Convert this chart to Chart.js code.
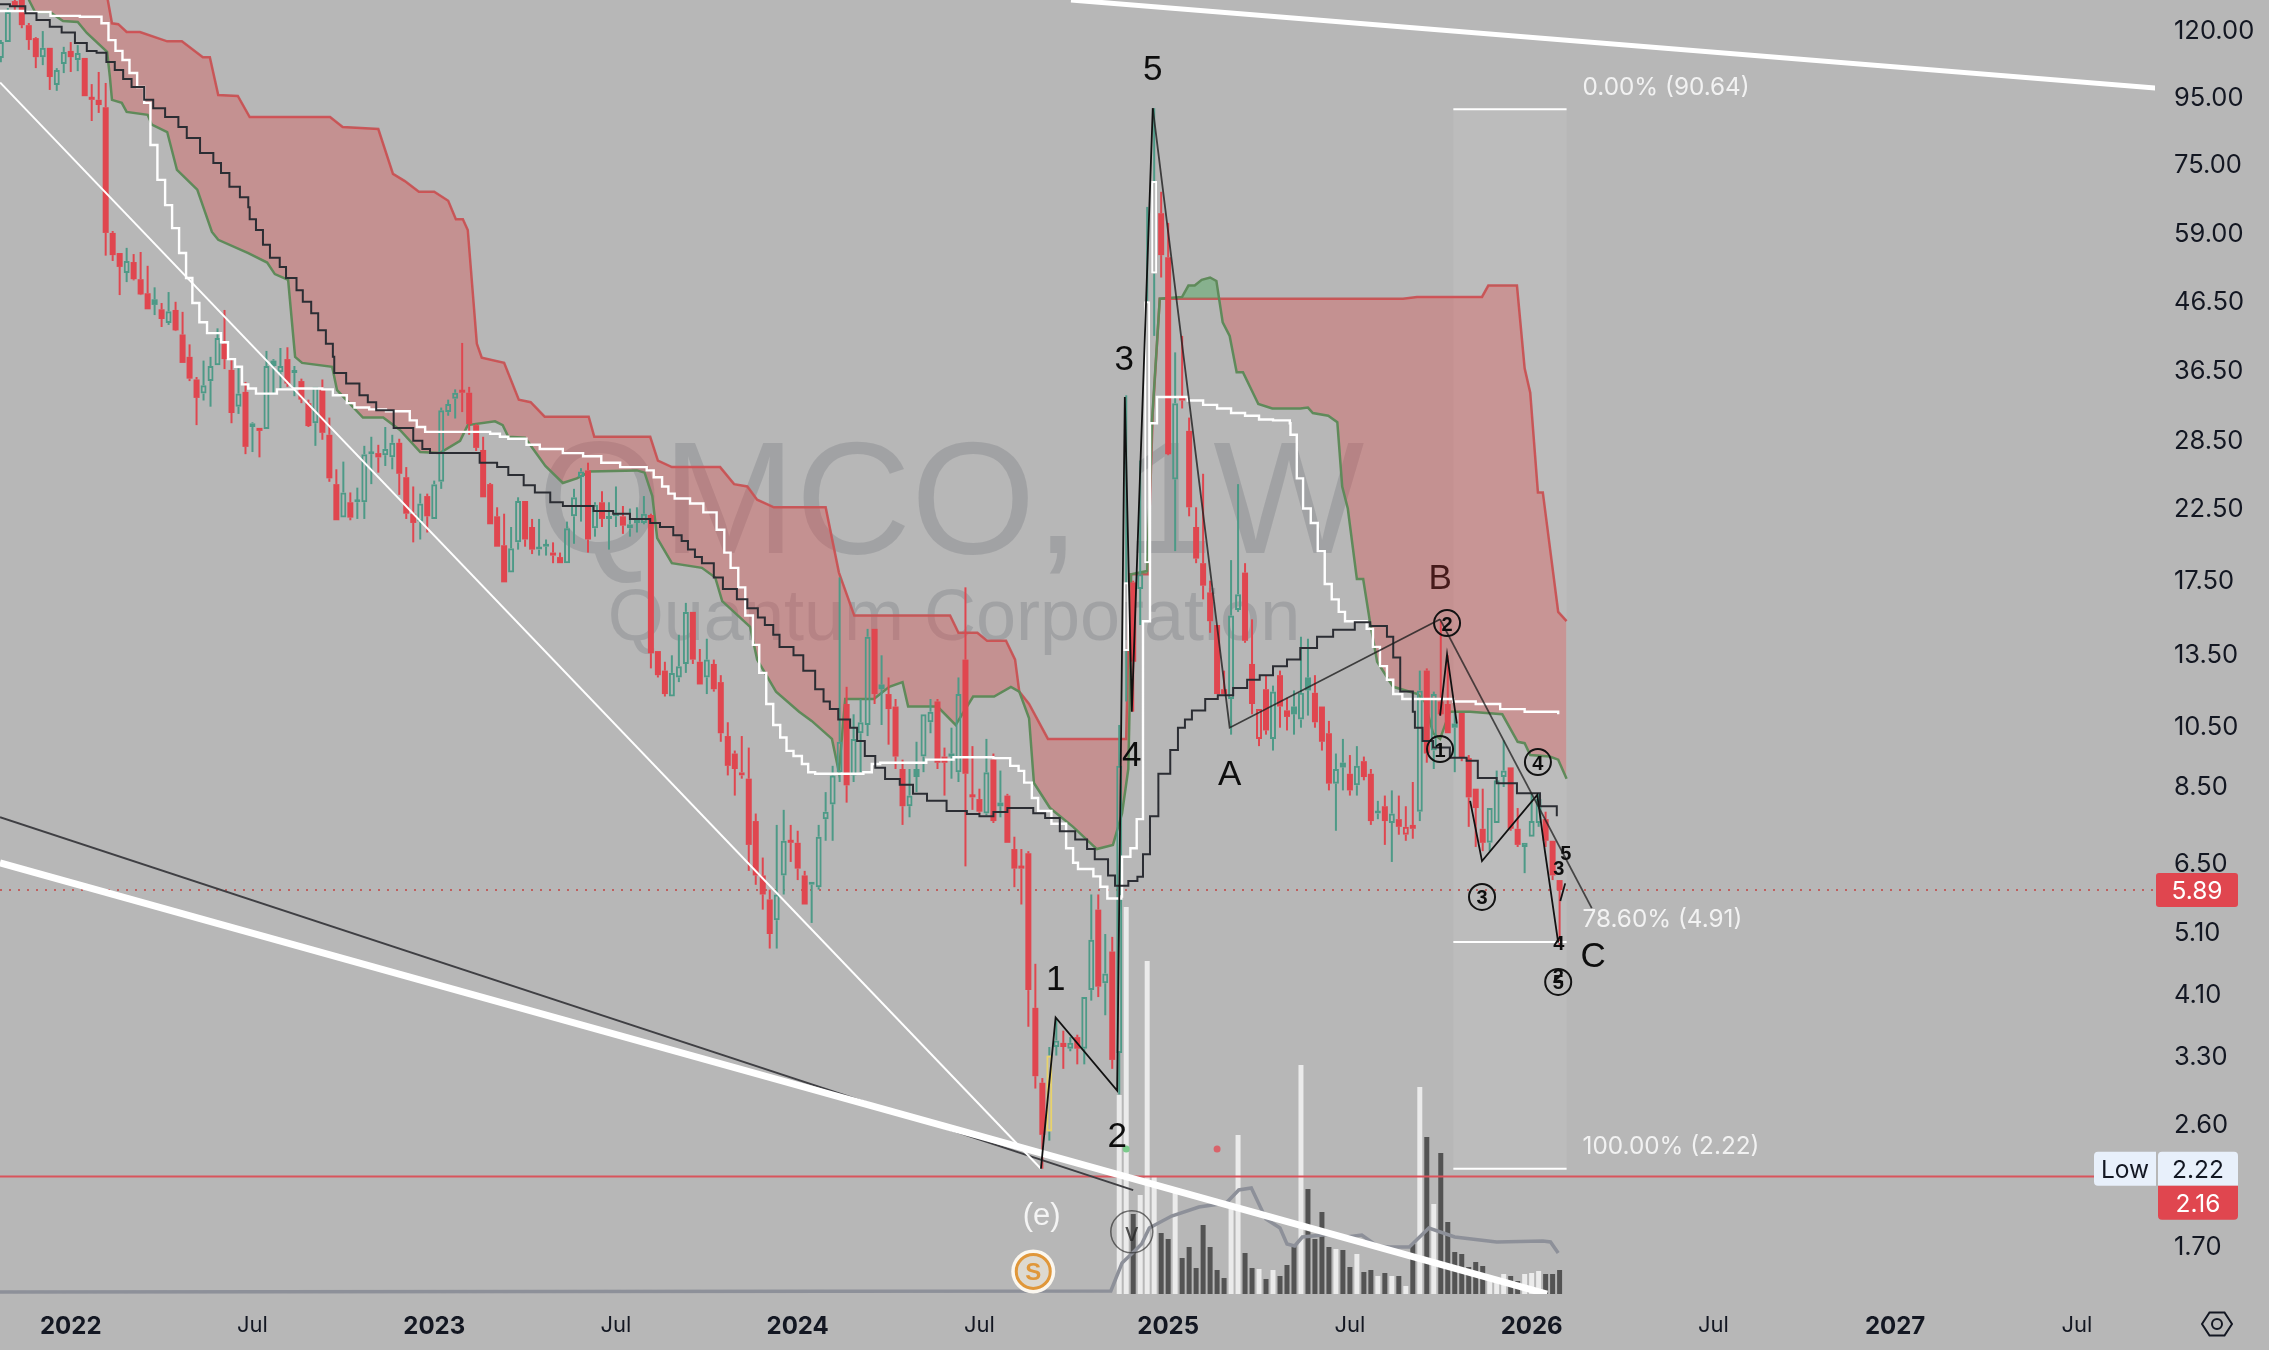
<!DOCTYPE html>
<html><head><meta charset="utf-8">
<style>html,body{margin:0;padding:0;background:#b7b7b7}canvas{display:block}</style>
<script src="https://cdn.jsdelivr.net/npm/chart.js@4/dist/chart.umd.js"></script>
</head><body><canvas id="c" width="2269" height="1350"></canvas>
<script>
const opens=[108.5,114.7,132.4,132.9,121.7,116.3,108.8,112.4,98.7,106.2,
111.2,107.7,108.5,94.5,93.7,91.3,58.8,54.8,51.1,53.1,
50,47.6,46.6,45,42.9,44.9,41.2,38.1,35.2,33.5,
35,37,39.9,36.4,32,33.7,29.8,29.7,29.6,37.6,
36.1,37.8,36,35,32.4,30.2,33.9,29,24.4,21.7,
22.9,22.9,22.9,27.1,27.2,27,26.8,28.2,25,22,
21.4,23.4,21.6,24.6,31.4,32.9,33.8,33.6,30,27.5,
24.4,21.8,19.7,17.9,19.9,23,21,19.4,19.6,19.2,
18.9,18.5,21.8,25,25.6,20.9,22.9,21.6,21.8,21.8,
20.9,21.3,21.3,21.9,13.6,12.7,11.6,12.4,13,15.6,
13.1,12.4,13,12.2,10.1,9.5,8.8,8.7,7.5,6.2,
5.7,5.3,6.2,7,6.95,6.2,6,5.95,7.55,7.95,
8.9,11.3,8.8,10.2,10.5,14.7,12.1,11.7,11.2,9,
7.9,9,9.4,10.6,11.4,9.4,9.5,8.9,13.2,8.2,
8.1,7.7,9.3,8,8.2,6.8,6.4,6.7,3.9,3,
2.53,3.4,3.45,3.38,3.52,3.38,4.15,5.5,4.25,4.75,
3.33,13.6,17.3,16.9,18.5,51,63,54,24.8,33.1,
29.4,21,18.5,16.7,14.9,11.9,11.5,15.7,17.9,13,
10,11.9,10,12.5,11.05,11.2,10.7,12.4,11.75,11.2,
10.2,8.55,9.2,8.85,8.5,9.25,8.85,7.7,7.9,7.45,
7.55,7.15,7.4,7.75,12.7,9.6,11.4,11.3,10.55,10.95,
9.35,8.4,7.3,6.95,7.45,8.75,9.05,7.3,6.85,7.1,
7.45,7.55,7,6.1];
const closes=[114.7,127.4,130,121.7,115.5,108.8,112.4,101.5,104,110.8,
108.8,110.4,94.9,93.7,92,58.8,54.4,52.2,53.3,50,
47.4,45,45.7,43.5,44.7,41.8,37.3,35.3,33,34.5,
36.9,40.7,37.8,31.3,33.5,27.8,30.2,29.4,36.9,36.9,
36.9,34.7,36.2,32.8,29.9,34.3,29.2,24.9,21.5,23.7,
21.7,23,27.1,27.2,26.8,27.6,28.2,25.3,22,21.3,
22.8,21.8,24.4,31.6,32.3,33.6,33.6,30.1,27.7,23.3,
21.2,19.6,17.3,19.5,23,20.1,19.4,19.5,19.7,19,
18.5,20.9,23.3,25.5,20.1,22.7,21.6,21.8,21.9,21.1,
21.2,21.4,22,13.5,12.5,11.7,12.6,12.9,15.6,13.2,
12.1,13.2,11.9,10.2,9.1,9,8.9,6.9,6.2,5.8,
5.05,5.8,7,6.95,6.35,5.6,6.05,7.1,7.75,8.8,
9.9,8.5,10,10.6,14.3,11.7,11.9,11.1,9.4,7.9,
8.2,8.75,10.9,11,9.2,9.2,9.4,11.7,8.85,8.15,
7.75,8.9,7.5,7.9,6.95,6.35,6.35,4.15,3.07,2.5,
3.3,3.48,3.4,3.45,3.38,4.05,4.95,4.2,4.4,3.25,
9.1,17.3,13.1,17.8,46.3,70.5,54.4,27.1,32.4,32.7,
22.5,18.8,17.1,15.1,11.7,11.7,15.4,16.6,14.1,11.3,
11.1,10.3,11.8,11.2,10.8,10.9,11.75,11.85,10.6,9.9,
8.55,9,9.05,8.35,9.1,8.75,7.5,7.75,7.5,7.7,
7.35,7.35,7.3,11.85,9.5,11.7,10.9,10.2,10.4,9.35,
8.15,7.85,6.95,7.85,8.65,8.95,7.3,6.9,6.95,7.5,
8.1,7,6.2,5.89];
const highs=[115.5,129.2,132.9,133,122.6,116.7,119.2,112.4,104.7,112.8,
114.7,113.5,108.5,99,103.3,99.4,59.2,54.8,55.8,54.6,
55,52.4,48.6,46,47.8,46.2,44.6,39.8,35.5,37.6,
38.1,42.1,44.9,37.9,36.6,34.9,30.3,29.7,38.9,37.8,
39.3,39.4,36.9,35.3,32.8,34.3,35.2,30.8,25.7,26.4,
23.7,24.1,27.9,28.8,28,29.8,29,28.6,25.9,24.2,
23.6,23.6,24.7,31.9,32.8,34,40,34.3,30.1,28.8,
24.5,22.5,22,21,23.3,23,21.6,21.6,20.1,19.9,
19.2,21.4,24,25.8,26.3,22.9,23.8,22.9,24.2,22.6,
22.4,22.5,23.4,22,13.6,13.1,13.4,14.4,16.1,15.6,
13.7,14.2,13.2,12.5,10.6,9.6,10.1,9.7,7.7,6.6,
5.9,7.4,7.8,7.4,7.25,6.3,6.05,7.4,8.3,9.1,
17.6,12,10.9,11.5,14.7,14.7,13.4,12.4,11.5,9.3,
9,9.9,10.9,11.5,11.5,9.7,10.4,12.4,17,9.75,
8.4,10,9.5,8.95,8.25,7.1,6.8,6.75,4.55,3.05,
3.4,3.75,3.6,3.52,3.55,4.05,5.8,5.8,5.05,5,
10.5,33.3,17.4,26.5,64.4,91,67.9,60.9,38.7,41,
30.8,22.5,25.3,17.4,14.9,12.7,18.7,24.4,18.5,15.2,
11.1,12.5,12.05,12.7,11.55,11.85,14.3,14.2,12.5,11.2,
10.65,9.5,10,9.45,9.75,9.4,9,8.05,8.2,8.35,
8.2,7.9,8.6,12.7,12.8,11.8,15.1,13.4,11,10.95,
9.45,8.4,8.4,7.85,8.95,9.95,9.05,7.85,6.95,8.25,
8.25,7.75,7,6.1];
const lows=[106.9,114.7,128.3,120.4,111.6,104.7,105.8,97,96.7,102.9,
103.3,103.6,94.9,87,89.5,54.3,53.3,47.3,49.5,49.8,
47.3,45,44.1,42.3,42.6,41.7,37.3,35,30,32.7,
32,37,36.5,30.2,31.2,27.1,27.3,26.8,29.6,33.5,
34.1,34.3,33.2,32.4,29.8,27.9,28.5,24.6,21.5,21.7,
21.5,21.6,21.6,24.4,25.4,26,25.7,23.5,21.6,19.9,
20.1,20.6,21.6,24,31,30.7,31.4,29,27.4,23.3,
21.2,19.6,17.3,17.9,19.4,19.6,19.1,19,19,18.5,
18.5,18.5,19.8,21.4,19.2,20.3,21,19.4,21,20.5,
20.3,20.6,21.2,12.8,12.4,11.6,11.6,12.2,12.6,13,
12.1,11.7,11.8,9.9,8.8,8.2,8.7,6.3,6,5.5,
4.8,4.8,5.8,6.5,6.1,5.6,5.25,5.9,7,7,
8.6,8,8.6,8.9,10.1,11.3,10.5,9.8,9,7.4,
7.6,8.3,8.9,10.2,9,8.2,8.7,8.6,6.4,7.8,
7.7,7.65,7.45,7.6,6.95,5.95,5.6,3.65,2.94,2.22,
2.45,3.3,3.15,3.35,3.2,3.2,4,4.05,3.8,3.15,
2.88,11.4,11,14.9,18.5,41,50.3,27,19.3,31.8,
21.8,18.5,16.3,14.5,11.7,11.7,10.15,15.6,14,10.9,
9.75,10.15,9.6,10.4,10.3,10.15,10.4,10.85,10.4,9.6,
8.35,7.25,8.35,8.2,8.2,8.65,7.4,7.55,6.9,6.5,
7.15,7,7.05,7.5,9.2,9,10.85,10.2,8.9,9.25,
7.35,6.85,6.75,6.75,7.45,8.45,7.25,6.85,6.25,7.1,
7.35,6.85,6.1,4.85];
const filledGreen=[22,39,126,131,136,143,185,187,192,208];
const hollowRed=[106,180,201];
const yellowOutline=[150];
const whiteOutline=[161,164,165];

const volumeStart=160;
const volumes=[9.95,19.35,4,4.95,16.65,5.85,3.05,2.75,5.15,1.8,
2.35,1.3,3.45,2.35,1.2,.8,4.25,7.95,2.05,1.3,
1.25,.75,1.2,.9,1.45,2.4,11.45,5.25,2.75,4.1,
2.35,2.25,2.2,1.35,2,1.1,1.2,.9,1.05,.9,
.9,.4,2.5,10.35,7.85,4.5,7.05,3.6,2.1,2,
1.35,1.6,1.4,.65,.65,1,.9,.65,1,1.05,
1.15,1,1,1.2];
const volMaIdx=[-1,158.8,160.4,161.9,163.2,164.3,167.5,171.4,175.3,177.1,178.9,181,183,184,185.1,186.2,190.6,192.5,194.7,196.9,198.7,201.5,204.3,208,214,220.6,221.7,222.8];
const volMaVals=[.1,.15,1.55,2.05,2.5,3.3,3.9,4.35,4.55,5.2,5.3,3.75,3.3,2.5,2.4,2.85,3,2.85,2.95,2.4,2.35,2.35,3.3,2.85,2.6,2.65,2.6,2.05];

const spanBIdx=[4,14.2,15.3,15.9,16.8,18,19.9,23.8,25.9,28.9,29.9,31.1,33.9,35.6,47.1,48.9,54,56.1,57.8,59.8,62,64,65.1,66.1,66.8,68.1,68.8,72,74.1,75.8,77.8,84.1,84.9,92.9,94,96,102.9,104.9,106.8,108.2,110.6,118,119.9,122.1,135.8,137,139.7,141.1,143.8,145.1,145.7,147.1,149.8,161,161.5,164,164.1,164.8,165.8,200.6,202.6,211.9,212.8,216.9,218,218.8,219.9,220.6,222.8,224];
const spanBVals=[170,158,132.9,122.5,122.1,118.8,118.8,115,115,108.8,108.8,95.3,95,88.2,88.2,85.2,84.6,72.3,70.5,67.9,67.9,65.8,61.7,61.7,59.4,39.9,38,37.3,32.8,32.5,30.9,30.9,28.8,28.8,26.5,25.9,25.9,24.4,24.2,23.1,22.5,22.5,17.9,15.4,15.4,14.5,14.5,14.1,14.1,13.2,11.8,11.3,10,10,17.8,17.8,18.4,31.3,46.7,46.7,47,47,48.9,48.9,36.6,33.6,23.7,23.7,15.6,15.1];
const spanAIdx=[4,4.9,7,8.9,11,12.3,15.2,15.6,15.9,17.3,18,21,21.6,23.8,25.2,28.1,30.2,31.1,35.4,38.1,39.2,41.1,42.1,43.1,47.4,48.1,51.8,54.7,57.1,60,62.8,65.7,66.8,70.7,71.8,72.6,75,77.9,80.4,82.4,84.3,91,92.1,93.2,93.9,96,100.3,102.2,103.2,107.2,108.2,110.9,114.2,116,118.9,119.9,120.8,124.9,127.1,129,129.8,134,136.6,139.1,142.1,144.5,145.7,147.1,147.8,150.1,153.4,156.8,159.1,160.4,161.3,161.5,161.7,164,164.7,165.8,169,169.9,170.8,171.8,173,173.9,174.8,175.8,176.8,177.7,179.9,181.9,185.9,187,187.7,189.9,191.2,191.9,192.7,194,194.9,195.9,196.9,199.2,202.7,203.7,204.9,205.9,207.3,208.3,210.2,214.8,217,218,218.8,221.6,222.8,224];
const spanAVals=[133,127.4,127.4,123.5,123.1,118.4,110.8,101.5,93.7,92.7,89.8,88.9,85.9,83.7,73.3,68.4,59,57.4,54.8,53,50.9,49.9,38.1,37.3,36.8,33.9,30.8,30.8,29.5,27.3,27.2,28.4,30,30.4,30,28.8,28.7,26,24.5,24.9,25.5,25.6,25.4,23.4,20.2,18.5,18.2,17.6,16.2,14.8,13.2,11.8,11,10.65,10,8.9,11.5,11.5,12,12.2,11.2,11.2,10.5,11.6,11.6,12,11.8,10.75,8.57,7.85,7.35,6.8,6.9,7.7,9,11.4,17.8,18,30.5,46.7,47,48.9,48.9,49.9,50.3,49.7,43,41,36.1,36.1,32.3,31.8,31.8,31.9,31.3,31,30.3,24.2,22.4,17.5,17.5,15,13.1,12,11.7,11.4,10.2,10,11,11,11,10.9,9.9,9.85,9.45,9.4,9.3,8.7];

const kijunIdx=[-1,3.5,7.1,11.3,14.4,15.4,16.4,17.4,18.4,19.5,20.5,21.4,22.4,23.5,24.5,25.5,26.5,27.4,28.4,29.5,31.5,32.5,33.5,34.5,35.4,36.5,39.5,42,46,47.5,49.5,50.6,52.7,55.1,58.5,59.5,60.7,64.5,70,71.4,72.6,75.2,77.1,80.4,83.3,85.9,88.6,92.4,93.4,94.6,95.5,96.4,98.6,100.5,102.4,103.5,104.4,105.5,106.5,107.6,108.5,109.5,110.5,111.5,112.4,113.4,114.6,115.5,116.5,123.4,124.6,125.8,132.4,136.3,142,144.4,145.6,146.4,147.5,148.4,150.3,152.4,153.4,154.1,156.3,157.3,158.3,160.3,160.4,161.6,162.5,163.4,164.4,165.4,169.8,172,174,176,178,180,182,184.4,184.5,185.4,186.3,187.4,188.4,189.4,190.4,191.4,192.3,195.4,196.3,197.3,198.3,199.2,200.5,207.8,211,214.5,218,222.8];
const kijunVals=[127.9,127.4,125.7,125.3,122.5,115.5,111.2,107.7,102.9,98,92.7,80,70.8,64.8,59.8,54.8,50.2,46,43,41.4,40.1,37.8,36.8,34.6,34.1,33.5,34,34.1,34,33.3,32.4,31.9,31.7,31.5,30.5,29.8,29.3,29.3,29.1,28.8,28.6,28,27.6,27.2,26.9,26.3,25.9,25.6,25,24.2,23.6,23.2,22.8,22.1,20.8,19.2,18.2,17,15.4,13.9,12.6,11.3,10.5,10.05,9.59,9.42,9.16,8.9,8.85,8.9,9.16,9.2,9.3,9.38,9.35,9.1,8.94,8.58,8.13,7.77,7.43,6.82,6.48,6.34,6.18,5.96,5.72,5.76,6.62,6.82,7.55,15.1,30.2,33.1,32.7,32.2,31.8,31.3,31,30.6,30.5,30.2,29,24.9,22.4,21.3,19.3,17.2,16.3,15.6,15.1,14.7,13.8,12.9,12.3,11.7,11.5,11.4,11.3,11.1,11,10.9];

const baseIdx=[-1,1.3,3.5,5.1,7,8.7,10.6,12.3,13.7,15.1,16.3,17.5,18.7,20.5,21.8,23.5,25.4,26.6,28.5,30.4,31.5,32.7,34.2,35.4,35.6,36.5,37.5,38.5,39.9,40.8,42.3,43.2,44.4,45.4,46.5,47.5,47.7,49.4,51.3,52.5,53.7,56.2,59,60.3,61.4,68.5,71,72.6,74.8,76.4,78.6,80.4,84.8,87.6,90,92.9,94.3,96.2,97.4,98.3,99.3,100.3,102,103.3,105.3,106.8,108.3,109.3,110.5,111.4,113.4,114.8,116.5,117.7,118.6,119.8,121.5,122.5,123.6,125.1,126.5,128.6,130.5,132.5,135.3,138.2,140,142,144,146.3,147.7,149.4,151.5,153.7,155.4,156.5,158.4,159.4,161.3,162.6,163.4,164.4,165.6,167.3,168.4,169.4,170.4,172.3,174.1,176.3,178.3,180.1,182,184,185.9,188.3,190.6,193.7,195.9,198.3,199.2,200.2,202,202.3,203.4,204.9,207.3,209.7,211.3,214,216.9,220.2,222.6];
const baseVals=[130.9,130,126.9,123.9,121,118.6,114.3,111.2,110.5,107,104,100.8,98,93.7,91,88.2,85.2,82,77.8,75.1,72.5,69.1,66.6,64.3,61.7,59.4,56.4,53.9,52.2,50.2,48.1,46.2,44.4,41.8,39.9,38.1,36,34.7,33.3,32.5,31.6,29.7,28.4,27.6,27.2,26.3,25.9,25.2,24.3,23.7,22.9,22.6,22.2,22,21.6,21.3,21,20.4,20,19.4,18.9,18.5,17.6,16.9,16.3,15.8,15.3,14.9,14.4,13.8,13.4,12.7,11.9,11.4,11.1,10.7,10.4,9.93,9.42,9.04,8.69,8.52,8.25,8.05,7.77,7.69,7.63,7.74,7.85,7.85,7.71,7.58,7.24,7.03,6.8,6.56,6.2,5.98,6.08,6.17,6.68,7.63,8.85,9.62,10.4,10.7,11.05,11.5,11.65,11.95,12.3,12.5,12.9,13.2,13.75,14.3,14.65,15.05,14.85,14.3,13.3,11.8,11,10.4,9.93,9.7,9.36,9.26,8.72,8.56,8.27,7.9,7.63];

const waveIdx=[148.8,150.9,159.7,160.8,161.8,164.8];
const waveVals=[2.22,3.77,2.92,33.1,11,91];
const correctionIdx=[164.8,175.8,205.9];
const correctionVals=[91,10.4,15.2];
const waveBIdx=[205.9,227.6];
const waveBVals=[15.2,5.53];
const subOneIdx=[205.9,206.9,208.3];
const subOneVals=[10.85,13.45,10.55];
const subTwoIdx=[210.2,211.9,219.8,220.9,222.8];
const subTwoVals=[8.05,6.52,8.22,6.75,4.9];
const subThreeIdx=[223.1,223.8];
const subThreeVals=[5.67,6.03];

const topTrendIdx=[153.1,308.3];
const topTrendVals=[132.9,97.6];
const bottomTrendIdx=[-0.12,221.2];
const bottomTrendVals=[6.48,1.432];
const thinTrendIdx=[-0.12,148.8];
const thinTrendVals=[99.6,2.22];
const darkTrendIdx=[-0.12,162];
const darkTrendVals=[7.6,2.06];

const fibStart=207.8, fibEnd=224;
const fibLevels=[90.64,4.91,2.22];
const fibLabels=['0.00% (90.64)','78.60% (4.91)','100.00% (2.22)'];
const lastPrice=5.89, periodLow=2.16, lowLabel=2.22;
const dotIdx=[161,174], dotVals=[2.38,2.38], dotColors=['#7ccb8c','#d9636a'];

const yTicks=[120,95,75,59,46.5,36.5,28.5,22.5,17.5,13.5,10.5,8.5,6.5,5.1,4.1,3.3,2.6,1.7];
const xTickIdx=[10,36,62,88,114,140,167,193,219,245,271,297];
const xTickLabels=['2022','Jul','2023','Jul','2024','Jul','2025','Jul','2026','Jul','2027','Jul'];

const waveLabels=[['5',164.8,104.7],['3',160.7,37.9],['4',161.8,9.46],['1',150.9,4.32],['2',159.7,2.5],['A',175.8,8.85],['C',227.8,4.69]];
const smallLabels=[['5',223.9,6.72],['3',222.9,6.38],['4',222.9,4.9],['2',222.8,4.37]];
const circled=[['1',205.9,9.65],['2',206.9,15],['3',211.9,5.75],['4',219.9,9.22],['5',222.8,4.27]];

const XMIN=-0.12,XMAX=308.18,YMIN=1.432,YMAX=132.9,VOLMAX=64.7;
const BG='#b7b7b7',GREEN='#4d9a87',RED='#e0464f',TXT='#131722';
const FONT='Inter, "Liberation Sans", sans-serif', LAB='"Liberation Sans", Arial, sans-serif';

const xy=(xs,ys)=>xs.map((x,i)=>({x,y:ys[i]}));
const isBull=i=>closes[i]>opens[i];
const candleColor=i=>{
  if(yellowOutline.includes(i))return '#e9d36a';
  if(whiteOutline.includes(i))return '#ffffff';
  if(filledGreen.includes(i))return GREEN;
  if(hollowRed.includes(i))return RED;
  return isBull(i)?GREEN:RED;
};
const wickColor=i=>{
  if(filledGreen.includes(i))return GREEN;
  if(hollowRed.includes(i))return RED;
  return isBull(i)?GREEN:RED;
};
const idx=opens.map((_,i)=>i);
const lineDs=(xs,ys,color,width,order,extra)=>Object.assign({type:'line',data:xy(xs,ys),borderColor:color,borderWidth:width,pointRadius:0,tension:0,fill:false,order,xAxisID:'x',yAxisID:'y',borderCapStyle:'butt'},extra||{});

const datasets=[
  lineDs(spanBIdx,spanBVals,'#c9575c',2.5,95),
  lineDs(spanAIdx,spanAVals,'#5f8a5a',2.5,94,{fill:{target:0,above:'rgba(70,170,85,0.42)',below:'rgba(224,70,70,0.33)'}}),
  {type:'bar',data:volumes.map((v,i)=>({x:volumeStart+i,y:v})),yAxisID:'vol',xAxisID:'x',barThickness:5,grouped:false,order:80,inflateAmount:0,
   backgroundColor:volumes.map((v,i)=>isBull(volumeStart+i)?'rgba(255,255,255,0.72)':'rgba(50,50,50,0.75)')},
  lineDs(volMaIdx,volMaVals,'#8d9099',3.5,79,{yAxisID:'vol'}),
  lineDs([XMIN,XMAX],[periodLow,periodLow],'#d9545c',2,70),
  lineDs([XMIN,XMAX],[lastPrice,lastPrice],'#c0605f',2,71,{borderDash:[2,7]}),
  {type:'bar',data:idx.map(i=>({x:i,y:[Math.max(opens[i],closes[i]),highs[i]]})),barThickness:2,grouped:false,order:52,inflateAmount:0,backgroundColor:idx.map(wickColor)},
  {type:'bar',data:idx.map(i=>({x:i,y:[lows[i],Math.min(opens[i],closes[i])]})),barThickness:2,grouped:false,order:52,inflateAmount:0,backgroundColor:idx.map(wickColor)},
  {type:'bar',data:idx.map(i=>({x:i,y:[opens[i],closes[i]]})),barThickness:6,grouped:false,order:50,inflateAmount:0,minBarLength:3,borderSkipped:false,
   backgroundColor:idx.map(i=>(isBull(i)?BG+'00':(filledGreen.includes(i)?GREEN:RED))),
   borderColor:idx.map(candleColor),borderWidth:idx.map(i=>isBull(i)?2:0)},
  lineDs(baseIdx,baseVals,'#2b2d33',2,39,{stepped:true}),
  lineDs(kijunIdx,kijunVals,'#ffffff',2.4,40,{stepped:true}),
  lineDs(thinTrendIdx,thinTrendVals,'#ffffff',2,30),
  lineDs(darkTrendIdx,darkTrendVals,'#3f3f43',2,31),
  lineDs(bottomTrendIdx,bottomTrendVals,'#ffffff',7,29),
  lineDs(topTrendIdx,topTrendVals,'#ffffff',5,29),
  lineDs([fibStart,fibEnd],[fibLevels[0],fibLevels[0]],'#ffffff',2,28),
  lineDs([fibStart,fibEnd],[fibLevels[1],fibLevels[1]],'#ffffff',2,28),
  lineDs([fibStart,fibEnd],[fibLevels[2],fibLevels[2]],'#ffffff',2,28),
  lineDs(waveIdx,waveVals,'#111111',1.8,20),
  lineDs(correctionIdx,correctionVals,'rgba(30,30,30,0.8)',1.8,20),
  lineDs(waveBIdx,waveBVals,'rgba(30,30,30,0.75)',1.8,20),
  lineDs(subOneIdx,subOneVals,'#111111',1.8,20),
  lineDs(subTwoIdx,subTwoVals,'#111111',1.8,20),
  lineDs(subThreeIdx,subThreeVals,'#111111',1.8,20),
  {type:'scatter',data:xy(dotIdx,dotVals),pointRadius:3.5,pointBackgroundColor:dotColors,pointBorderWidth:0,order:15,showLine:false},
];

const overlay={
  id:'overlay',
  beforeDraw(chart){
    const c=chart.ctx;c.save();c.fillStyle=BG;c.fillRect(0,0,chart.width,chart.height);c.restore();
    chart.scales.y.getLabelItems(chart.chartArea).forEach(it=>{if(!it.shifted){it.options.translation[1]+=2;it.shifted=true;}});
  },
  beforeDatasetsDraw(chart){
    const c=chart.ctx,x=chart.scales.x,y=chart.scales.y;
    c.save();
    c.fillStyle='rgba(125,128,135,0.38)';c.textAlign='center';c.textBaseline='alphabetic';
    c.font='160px "Liberation Sans", Arial, sans-serif';c.fillText('QMCO, 1W',951,553);
    c.font='72px "Liberation Sans", Arial, sans-serif';c.fillText('Quantum Corporation',954,640);
    const x0=x.getPixelForValue(fibStart),x1=x.getPixelForValue(fibEnd),y0=y.getPixelForValue(fibLevels[0]),y1=y.getPixelForValue(fibLevels[2]);
    c.fillStyle='rgba(255,255,255,0.075)';c.fillRect(x0,y0,x1-x0,y1-y0);
    c.restore();
  },
  afterDatasetsDraw(chart){
    const c=chart.ctx,x=chart.scales.x,y=chart.scales.y;
    c.save();
    c.textAlign='left';c.textBaseline='middle';c.fillStyle='#f2f2f2';c.font='24.3px '+FONT;
    fibLevels.forEach((lv,i)=>c.fillText(fibLabels[i],x.getPixelForValue(fibEnd)+16,y.getPixelForValue(lv)-22));
    c.textAlign='center';c.fillStyle='#0d0d0d';c.font='35px '+LAB;
    waveLabels.forEach(l=>c.fillText(l[0],x.getPixelForValue(l[1]),y.getPixelForValue(l[2])+2));
    c.fillStyle='#451a1a';c.fillText('B',x.getPixelForValue(205.9),y.getPixelForValue(17.6)+2);
    c.fillStyle='#f4f4f4';c.font='31px '+LAB;c.fillText('(e)',x.getPixelForValue(148.9),y.getPixelForValue(1.89)+2);
    c.fillStyle='#0d0d0d';c.font='bold 20px '+LAB;
    smallLabels.forEach(l=>c.fillText(l[0],x.getPixelForValue(l[1]),y.getPixelForValue(l[2])+2));
    c.strokeStyle='#121212';c.lineWidth=2;
    circled.forEach(l=>{const px=x.getPixelForValue(l[1]),py=y.getPixelForValue(l[2]);
      c.beginPath();c.arc(px,py,13,0,Math.PI*2);c.stroke();
      c.fillStyle='#0d0d0d';c.font='bold 20px '+LAB;c.fillText(l[0],px,py+2);});
    const vx=x.getPixelForValue(161.8),vy=y.getPixelForValue(1.78);
    c.lineWidth=1.5;c.strokeStyle='rgba(40,40,40,0.65)';c.beginPath();c.arc(vx,vy,21,0,Math.PI*2);c.stroke();
    c.fillStyle='rgba(40,40,40,0.8)';c.font='26px '+LAB;c.fillText('v',vx,vy+2);
    const sx=x.getPixelForValue(147.7),sy=y.getPixelForValue(1.55);
    c.fillStyle='#fbf7ef';c.beginPath();c.arc(sx,sy,22,0,Math.PI*2);c.fill();
    c.strokeStyle='#e0973a';c.lineWidth=3;c.fillStyle='#ddd9d0';c.beginPath();c.arc(sx,sy,17,0,Math.PI*2);c.fill();c.stroke();
    c.fillStyle='#e0973a';c.font='bold 24px '+LAB;c.fillText('S',sx,sy+2);
    c.restore();
  },
  afterDraw(chart){
    const c=chart.ctx,y=chart.scales.y;
    const badge=(x0,x1,py,txt,bg,fg,r)=>{
      c.fillStyle=bg;c.beginPath();c.roundRect(x0,py-17,x1-x0,34,r);c.fill();
      c.fillStyle=fg;c.font='24.5px '+FONT;c.textAlign='center';c.textBaseline='middle';c.fillText(txt,(x0+x1)/2,py+2);};
    c.save();
    badge(2156,2238,y.getPixelForValue(lastPrice),lastPrice.toFixed(2),'#e0464f','#ffffff',3);
    const lp=y.getPixelForValue(lowLabel);
    badge(2094,2156,lp,'Low','#e8f0fb',TXT,[4,0,0,4]);
    badge(2158,2238,lp,lowLabel.toFixed(2),'#e8f0fb',TXT,[4,4,0,0]);
    badge(2158,2238,lp+34,periodLow.toFixed(2),'#e0464f','#ffffff',[0,0,4,4]);
    const hx=2217,hy=1324,hr=15;
    c.strokeStyle=TXT;c.lineWidth=2;c.beginPath();
    for(let k=0;k<6;k++){const a=Math.PI/3*k;const px=hx+hr*Math.cos(a),py=hy+hr*0.88*Math.sin(a);k?c.lineTo(px,py):c.moveTo(px,py);}
    c.closePath();c.stroke();c.beginPath();c.arc(hx,hy,5,0,Math.PI*2);c.stroke();
    c.restore();
  }
};

new Chart(document.getElementById('c'),{
  type:'bar',
  data:{datasets},
  plugins:[overlay],
  options:{
    responsive:false,animation:false,
    layout:{padding:0,autoPadding:false},
    plugins:{legend:{display:false},tooltip:{enabled:false}},
    scales:{
      x:{type:'linear',min:XMIN,max:XMAX,offset:false,position:'bottom',
        grid:{display:false},border:{display:false},
        afterBuildTicks(s){s.ticks=xTickIdx.map(v=>({value:v}));},
        afterFit(s){s.height=56;s.paddingLeft=0;s.paddingRight=0;s.paddingTop=0;s.paddingBottom=0;},
        ticks:{autoSkip:false,maxRotation:0,minRotation:0,padding:10,color:TXT,
          callback(v){const i=xTickIdx.indexOf(v);return i<0?'':xTickLabels[i];},
          font(ctx){const i=xTickIdx.indexOf(ctx.tick&&ctx.tick.value);const l=xTickLabels[i]||'';
            return l==='Jul'?{family:FONT,size:22}:{family:FONT,size:24,weight:'bold'};}}},
      y:{type:'logarithmic',min:YMIN,max:YMAX,position:'right',
        grid:{display:false},border:{display:false},
        afterBuildTicks(s){s.ticks=yTicks.map(v=>({value:v}));},
        afterFit(s){s.width=114;s.paddingTop=0;s.paddingBottom=0;s.paddingLeft=0;s.paddingRight=0;},
        ticks:{autoSkip:false,padding:11,crossAlign:'near',color:TXT,font:{family:FONT,size:25.5},
          callback(v){return Number(v).toFixed(2);}}},
      vol:{type:'linear',min:0,max:VOLMAX,display:false,position:'left'}
    }
  }
});
</script></body></html>
